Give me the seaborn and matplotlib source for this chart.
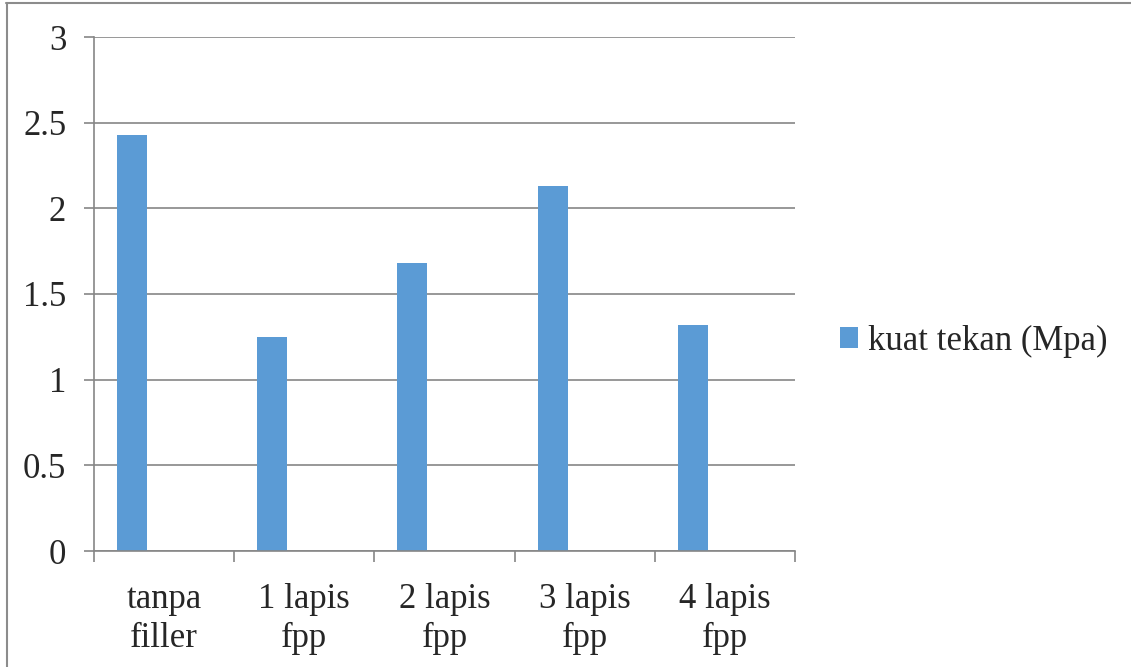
import numpy as np
import pandas as pd
import matplotlib
matplotlib.use("Agg")
import matplotlib.pyplot as plt
import seaborn as sns
from matplotlib.patches import Patch
from matplotlib.lines import Line2D

# Data
categories = ["tanpa\nfiller", "1 lapis\nfpp", "2 lapis\nfpp", "3 lapis\nfpp", "4 lapis\nfpp"]
kuat_tekan = [2.43, 1.25, 1.68, 2.13, 1.32]
series_name = "kuat tekan (Mpa)"

df = pd.DataFrame({"kategori": categories, "nilai": kuat_tekan})

sns.set_style("white")
plt.rcParams["font.family"] = ["Liberation Serif", "DejaVu Serif"]

W, H = 1131, 667
fig = plt.figure(figsize=(W / 100, H / 100), dpi=100)
ax = fig.add_axes([94 / W, 1 - 551 / H, (795 - 94) / W, (551 - 37) / H])

bar_color = "#5B9BD5"
bar_w = 0.214
sns.barplot(data=df, x="kategori", y="nilai", color=bar_color, width=bar_w,
            saturation=1, ax=ax, edgecolor="none")
# Excel style: bar sits left of the category centre
for p in ax.patches:
    p.set_x(p.get_x() - 0.229)

ax.set_xlim(-0.5, len(categories) - 0.5)
ax.set_ylim(0, 3)
ax.set_yticks(np.arange(0, 3.01, 0.5))
ax.set_yticklabels(["0", "0.5", "1", "1.5", "2", "2.5", "3"])
ax.set_xlabel("")
ax.set_ylabel("")

grid_c = "#868686"
fs = 25
ax.yaxis.grid(True, color=grid_c, linewidth=1.2)
ax.set_axisbelow(True)
for s in ["top", "right"]:
    ax.spines[s].set_visible(False)
for s in ["left", "bottom"]:
    ax.spines[s].set_color(grid_c)
    ax.spines[s].set_linewidth(1.2)

ax.tick_params(axis="y", left=True, length=7, color=grid_c, width=1.2,
               labelsize=fs, pad=13)
ax.tick_params(axis="x", which="major", bottom=True, length=0, labelsize=fs, pad=23)
ax.set_xticks(np.arange(-0.5, len(categories), 1.0), minor=True)
ax.tick_params(axis="x", which="minor", bottom=True, length=8, color=grid_c, width=1.2)
for lab in ax.get_xticklabels():
    lab.set_linespacing(1.25)

handles = [Patch(facecolor=bar_color, edgecolor="none", label=series_name)]
fig.legend(handles=handles, loc="center left", bbox_to_anchor=(823 / W, 1 - 341 / H),
           frameon=False, fontsize=fs, handlelength=0.5, handleheight=0.55,
           handletextpad=0.3, borderpad=0)

# outer chart border (top and left edges visible)
fig.add_artist(Line2D([6 / W, 1], [1 - 3 / H, 1 - 3 / H], transform=fig.transFigure,
                      color="#8c8c8c", linewidth=1.5))
fig.add_artist(Line2D([6.5 / W, 6.5 / W], [0, 1 - 3 / H], transform=fig.transFigure,
                      color="#8c8c8c", linewidth=1.5))

fig.savefig("out.png", dpi=100)
